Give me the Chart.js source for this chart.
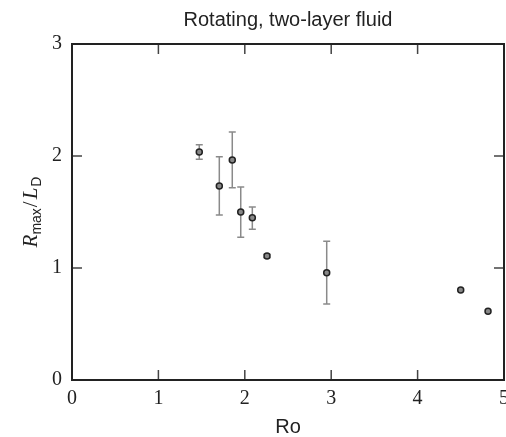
<!DOCTYPE html>
<html>
<head>
<meta charset="utf-8">
<script src="https://cdn.jsdelivr.net/npm/chart.js@4"></script>
<style>
html,body{margin:0;padding:0;background:#fff;}
canvas{display:block;}
</style>
</head>
<body>
<canvas id="c" width="506" height="437"></canvas>
<script>
// ---- data ----
const titleText = "Rotating, two-layer fluid";
const xTitle = "Ro";
const ro      = [1.473, 1.705, 1.855, 1.953, 2.087, 2.257, 2.948, 4.499, 4.815];
const ratio   = [2.036, 1.732, 1.964, 1.500, 1.449, 1.107, 0.958, 0.804, 0.613];
const errLow  = [1.970, 1.473, 1.717, 1.274, 1.345, 1.092, 0.679, null, null];
const errHigh = [2.101, 1.994, 2.214, 1.723, 1.545, 1.122, 1.238, null, null];
const xTicks = [0, 1, 2, 3, 4, 5];
const yTicks = [0, 1, 2, 3];

const points = ro.map((x, i) => ({x: x, y: ratio[i]}));

const ink = '#222';

const errorBars = {
  id: 'errorBars',
  beforeDatasetsDraw(chart) {
    const ctx = chart.ctx, xs = chart.scales.x, ys = chart.scales.y;
    ctx.save();
    ctx.strokeStyle = '#8a8a8a';
    ctx.lineWidth = 1.5;
    for (let i = 0; i < ro.length; i++) {
      if (errLow[i] == null) continue;
      const px = xs.getPixelForValue(ro[i]);
      const y1 = ys.getPixelForValue(errLow[i]);
      const y2 = ys.getPixelForValue(errHigh[i]);
      ctx.beginPath();
      ctx.moveTo(px, y1); ctx.lineTo(px, y2);
      ctx.moveTo(px - 3.5, y1); ctx.lineTo(px + 3.5, y1);
      ctx.moveTo(px - 3.5, y2); ctx.lineTo(px + 3.5, y2);
      ctx.stroke();
    }
    ctx.restore();
  }
};

const frame = {
  id: 'frame',
  afterDraw(chart) {
    const ctx = chart.ctx, xs = chart.scales.x, ys = chart.scales.y, a = chart.chartArea;
    ctx.save();
    // ticks (inward, all sides)
    ctx.strokeStyle = '#444';
    ctx.lineWidth = 1.5;
    ctx.beginPath();
    xTicks.forEach(v => {
      const px = xs.getPixelForValue(v);
      ctx.moveTo(px, a.bottom); ctx.lineTo(px, a.bottom - 10);
      ctx.moveTo(px, a.top); ctx.lineTo(px, a.top + 10);
    });
    yTicks.forEach(v => {
      const py = ys.getPixelForValue(v);
      ctx.moveTo(a.left, py); ctx.lineTo(a.left + 10, py);
      ctx.moveTo(a.right, py); ctx.lineTo(a.right - 10, py);
    });
    ctx.stroke();
    // frame
    ctx.strokeStyle = ink;
    ctx.lineWidth = 2;
    ctx.strokeRect(a.left, a.top, a.right - a.left, a.bottom - a.top);

    ctx.fillStyle = ink;
    // tick labels
    ctx.font = '20px "Liberation Serif", serif';
    ctx.textAlign = 'center';
    ctx.textBaseline = 'middle';
    xTicks.forEach(v => {
      ctx.fillText(String(v), xs.getPixelForValue(v), a.bottom + 19);
    });
    ctx.textAlign = 'right';
    yTicks.forEach(v => {
      ctx.fillText(String(v), a.left - 10, ys.getPixelForValue(v));
    });
    // title
    ctx.font = '20px "Liberation Sans", Arial, sans-serif';
    ctx.textAlign = 'center';
    ctx.textBaseline = 'alphabetic';
    ctx.fillText(titleText, (a.left + a.right) / 2, 26);
    // x title
    ctx.fillText(xTitle, (a.left + a.right) / 2, 433);
    // y title: R_max / L_D
    const parts = [
      {t: 'R', f: 'italic 21px "Liberation Serif", serif', dy: 0},
      {t: 'max', f: '14px "Liberation Sans", sans-serif', dy: 4},
      {t: '/', f: '21px "Liberation Serif", serif', dy: 0, pad: 2},
      {t: 'L', f: 'italic 21px "Liberation Serif", serif', dy: 0, pad: 2},
      {t: 'D', f: '14px "Liberation Sans", sans-serif', dy: 4}
    ];
    let total = 0;
    parts.forEach(p => { ctx.font = p.f; p.w = ctx.measureText(p.t).width + (p.pad || 0); total += p.w; });
    ctx.translate(37, (a.top + a.bottom) / 2);
    ctx.rotate(-Math.PI / 2);
    ctx.textAlign = 'left';
    let x = -total / 2;
    parts.forEach(p => {
      ctx.font = p.f;
      ctx.fillText(p.t, x + (p.pad ? p.pad / 2 : 0), p.dy);
      x += p.w;
    });
    ctx.restore();
  }
};

new Chart(document.getElementById('c'), {
  type: 'scatter',
  data: {
    datasets: [{
      data: points,
      pointRadius: 3,
      pointBorderWidth: 1.5,
      pointBorderColor: ink,
      pointBackgroundColor: '#888',
      showLine: false,
      clip: false
    }]
  },
  options: {
    responsive: false,
    animation: false,
    events: [],
    layout: {autoPadding: false, padding: {left: 72, right: 2, top: 44, bottom: 57}},
    plugins: {legend: {display: false}, tooltip: {enabled: false}, title: {display: false}},
    scales: {
      x: {type: 'linear', min: 0, max: 5, display: false},
      y: {type: 'linear', min: 0, max: 3, display: false}
    }
  },
  plugins: [errorBars, frame]
});
</script>
</body>
</html>
